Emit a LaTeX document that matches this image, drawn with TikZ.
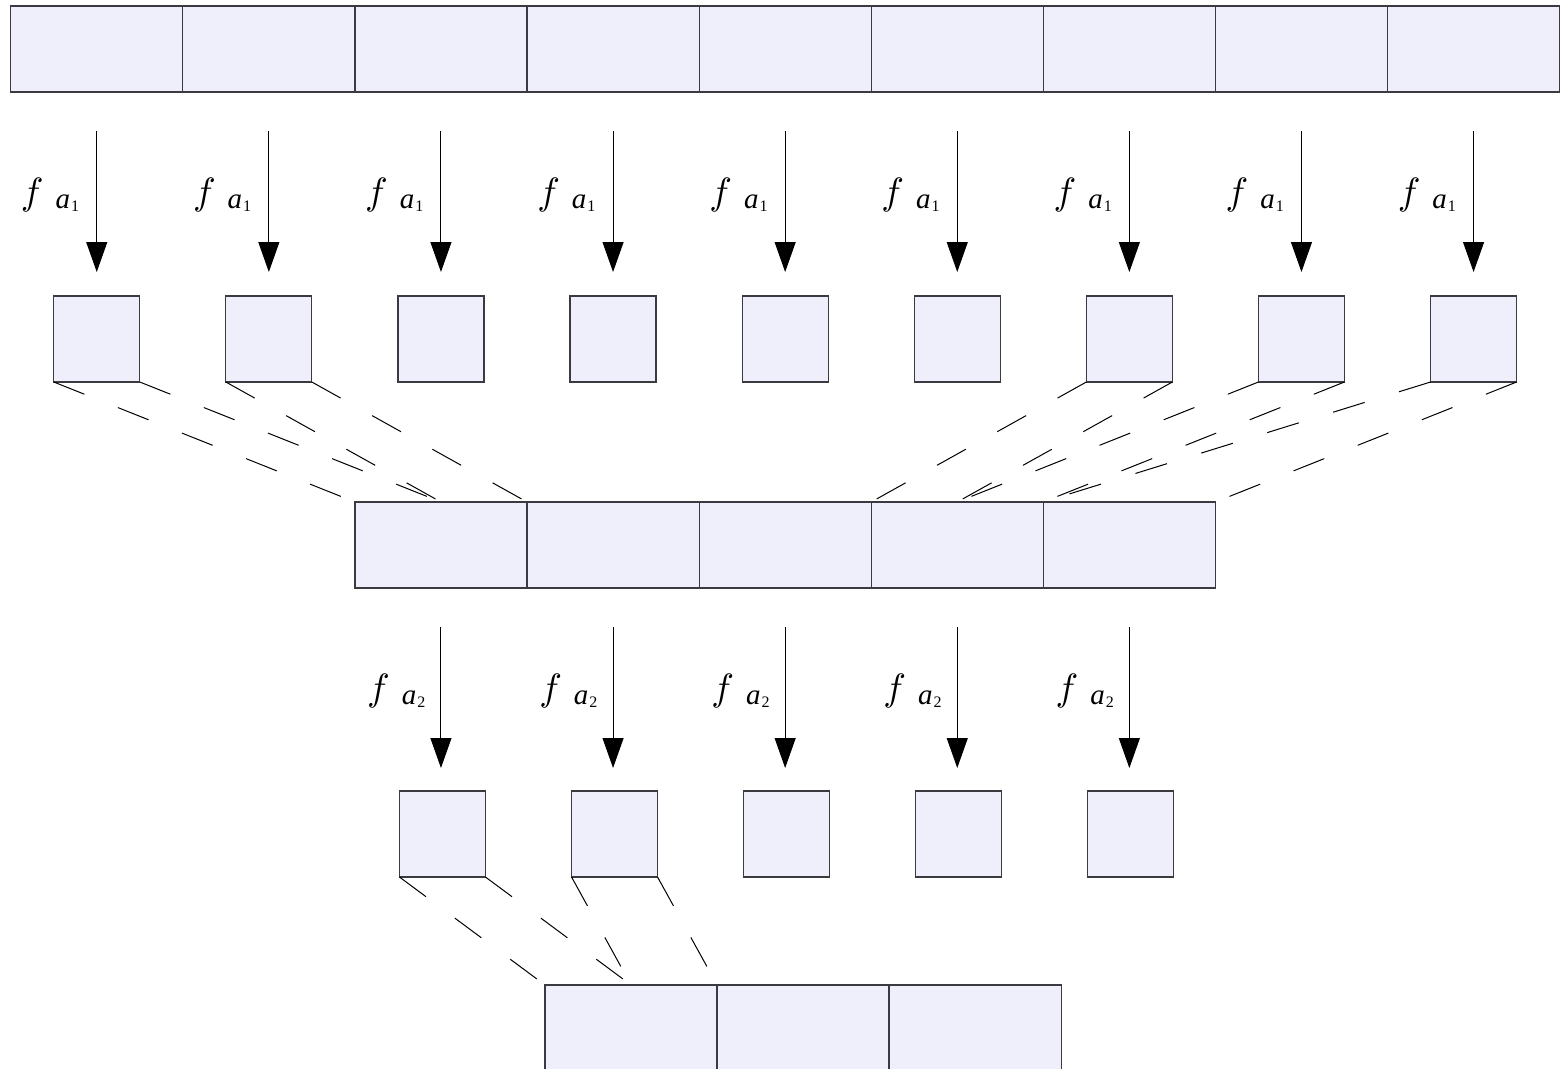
\documentclass[tikz,border=0pt]{standalone}
\usepackage{graphicx}
\usepackage{fontspec}
\setmainfont{Liberation Serif}
\usetikzlibrary{arrows.meta}
\definecolor{boxfill}{RGB}{239,239,251}
\definecolor{boxline}{RGB}{58,58,64}
\newcommand{\flab}[1]{\scalebox{3.8}{$f$}\hspace{12pt}\raisebox{-4pt}{\fontsize{29}{29}\selectfont\itshape a}\hspace{1pt}\raisebox{-7pt}{\fontsize{16}{16}\selectfont #1}}
\begin{document}
\begin{tikzpicture}[x=1pt,y=-1pt,
  cell/.style={draw=boxline,fill=boxfill,line width=1.2pt,minimum width=172.1pt,minimum height=86pt,inner sep=0pt,outer sep=0pt,anchor=north west},
  sq/.style={draw=boxline,fill=boxfill,line width=1.2pt,minimum width=86pt,minimum height=86pt,inner sep=0pt,outer sep=0pt,anchor=north},
  arr/.style={line width=1pt,-{Triangle[width=21pt,length=30pt]}},
  dsh/.style={line width=1pt,dash pattern=on 33pt off 36pt},
  lab/.style={inner sep=0pt,anchor=base west}]
\clip (0,0) rectangle (1562,1068);
% top row
\foreach \i in {1,...,9} {
  \node[cell] (t\i) at ({10.7+172.1*(\i-1)},6) {};
}
% small boxes row 1
\foreach \i in {1,...,9} {
  \node[sq] (s\i) at ({96.75+172.1*(\i-1)},296) {};
  \draw[arr,shorten <=39pt,shorten >=24pt] (t\i.south) -- (s\i.north);
  \node[lab] (la\i) at ({96.75+172.1*(\i-1)-76},204) {\flab{1}};
}
% middle row
\foreach \i in {1,...,5} {
  \node[cell] (m\i) at ({354.9+172.1*(\i-1)},502) {};
}
% small boxes row 2
\foreach \i in {1,...,5} {
  \pgfmathtruncatemacro{\j}{\i+2}
  \node[sq] (u\i) at ({96.75+172.1*(\i+1)+1.5},791) {};
  \draw[arr,shorten <=39pt,shorten >=23pt] (t\j.south |- m\i.south) -- (t\j.south |- u\i.north);
  \node[lab] (lb\i) at ({96.75+172.1*(\i+1)-74},700) {\flab{2}};
}
% bottom row
\foreach \i in {1,...,3} {
  \node[cell] (b\i) at ({545+172*(\i-1)},985) {};
}
% dashed fan lines, level 1
\draw[dsh] (s1.south west) -- (m1.north west);
\draw[dsh] (s1.south east) -- (m1.north);
\draw[dsh] (s2.south west) -- (m1.north);
\draw[dsh] (s2.south east) -- (m1.north east);
\draw[dsh] (s7.south west) -- (m4.north west);
\draw[dsh] (s7.south east) -- (m4.north);
\draw[dsh] (s8.south west) -- (m4.north);
\draw[dsh] (s8.south east) -- (m4.north east);
\draw[dsh] (s9.south west) -- (m5.north west);
\draw[dsh] (s9.south east) -- (m5.north east);
% dashed fan lines, level 2
\draw[dsh] (u1.south west) -- (b1.north west);
\draw[dsh] (u1.south east) -- (b1.north);
\draw[dsh] (u2.south west) -- (b1.north);
\draw[dsh] (u2.south east) -- (b1.north east);
\end{tikzpicture}
\end{document}
